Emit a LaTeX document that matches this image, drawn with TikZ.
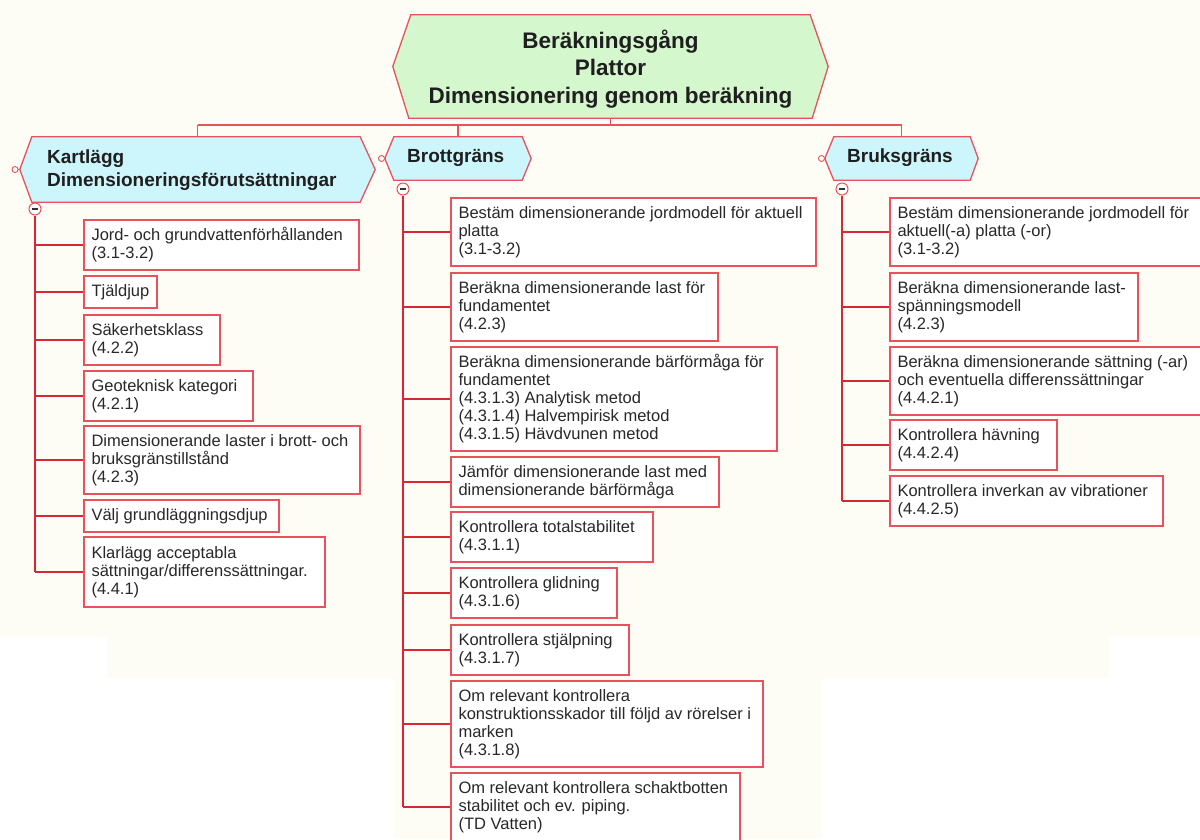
\documentclass[tikz,border=0pt]{standalone}
\usepackage{fontspec}
\setmainfont{Liberation Sans}
\usetikzlibrary{backgrounds}
\definecolor{bord}{RGB}{232,82,92}
\definecolor{connc}{RGB}{214,40,52}
\definecolor{topfill}{RGB}{212,247,206}
\definecolor{hdrfill}{RGB}{204,246,252}
\definecolor{cream}{RGB}{253,252,245}
\definecolor{txt}{RGB}{40,40,40}
\tikzset{
  itembox/.style={draw=bord, line width=1.3pt, fill=white, rectangle, inner sep=0pt},
  itemtext/.style={anchor=west, align=left, inner sep=0pt, font=\fontsize{16.5}{18}\selectfont, text=txt},
  conn/.style={draw=connc, line width=1.8pt},
  busline/.style={draw=bord, line width=1.3pt},
  hex/.style={draw=bord, line width=1.3pt, line join=miter},
  toggle/.style={circle, draw=bord, fill=white, line width=1pt, minimum size=12pt, inner sep=0pt},
  knob/.style={circle, draw=bord, fill=white, line width=0.9pt, minimum size=6pt, inner sep=0pt},
  hdrtext/.style={anchor=west, align=left, inner sep=0pt, font=\bfseries\fontsize{19}{22.5}\selectfont, text=black!88},
  anchorbox/.style={rectangle, inner sep=0pt}
}
\newcommand\itm[6]{%
  \pgfmathsetmacro\itmW{#4-#2}\pgfmathsetmacro\itmH{#5-#3}%
  \node[itembox, minimum width=\itmW pt, minimum height=\itmH pt] (#1) at ({(#2+#4)/2},{(#3+#5)/2}) {};%
  \node[itemtext] (#1t) at ([xshift=8pt]#1.west) {#6};%
}
\begin{document}
\begin{tikzpicture}[x=1pt,y=-1pt]
\path[use as bounding box] (0,0) rectangle (1200,839);
\clip (0,0) rectangle (1200,839);
\begin{scope}[on background layer]
  \fill[white] (0,0) rectangle (1200,839);
  \fill[cream] (0,0) rectangle (1200,637);
  \fill[cream] (107,637) rectangle (1109,678);
  \fill[cream] (394,678) rectangle (822,839);
\end{scope}

% root
\node[anchorbox, minimum width=435pt, minimum height=103pt] (top) at (610.5,66.5) {};
\node[align=center, inner sep=0pt, font=\bfseries\fontsize{22.5}{27.5}\selectfont, text=black!88]
      (topt) at (610.5,69) {Beräkningsgång\\Plattor\\Dimensionering genom beräkning};

% headers
\node[anchorbox, minimum width=355pt, minimum height=65pt] (hL) at (197.5,169.5) {};
\node[hdrtext] (hLt) at (47,170) {Kartlägg\\Dimensioneringsförutsättningar};
\node[anchorbox, minimum width=146pt, minimum height=43pt] (hM) at (458,158.5) {};
\node[hdrtext] (hMt) at (407,158) {Brottgräns};
\node[anchorbox, minimum width=153pt, minimum height=43pt] (hR) at (901.5,158.5) {};
\node[hdrtext] (hRt) at (847,158) {Bruksgräns};

\begin{scope}[on background layer]
  \path[hex, fill=topfill] (top.west) -- ([xshift=18pt]top.north west) -- ([xshift=-18pt]top.north east)
     -- (top.east) -- ([xshift=-16pt]top.south east) -- ([xshift=16pt]top.south west) -- cycle;
  \path[hex, fill=hdrfill] (hL.west) -- ([xshift=12pt]hL.north west) -- ([xshift=-15pt]hL.north east)
     -- (hL.east) -- ([xshift=-15pt]hL.south east) -- ([xshift=12pt]hL.south west) -- cycle;
  \path[hex, fill=hdrfill] (hM.west) -- ([xshift=9pt]hM.north west) -- ([xshift=-9pt]hM.north east)
     -- (hM.east) -- ([xshift=-9pt]hM.south east) -- ([xshift=9pt]hM.south west) -- cycle;
  \path[hex, fill=hdrfill] (hR.west) -- ([xshift=9pt]hR.north west) -- ([xshift=-8pt]hR.north east)
     -- (hR.east) -- ([xshift=-8pt]hR.south east) -- ([xshift=9pt]hR.south west) -- cycle;
\end{scope}

% bus
\coordinate (bus) at (0,125);
\draw[busline] (top.south) -- (top.south |- bus);
\draw[busline] (hL.north |- bus) -- (hR.north |- bus);
\draw[busline] (hL.north |- bus) -- (hL.north);
\draw[busline] (hM.north |- bus) -- (hM.north);
\draw[busline] (hR.north |- bus) -- (hR.north);

% knobs
\node[knob] (kL) at (15,169.5) {};
\node[knob] (kM) at (381.5,158.5) {};
\node[knob] (kR) at (821.5,158.5) {};
\draw[busline, line width=0.9pt] (kL) -- (hL.west);
\draw[busline, line width=0.9pt] (kM) -- (hM.west);
\draw[busline, line width=0.9pt] (kR) -- (hR.west);

% left column
\itm{l1}{84}{220}{359}{270}{Jord- och grundvattenförhållanden\\(3.1-3.2)}
\itm{l2}{84}{276}{157}{308}{Tjäldjup}
\itm{l3}{84}{315}{220}{365}{Säkerhetsklass\\(4.2.2)}
\itm{l4}{84}{371}{253}{421}{Geoteknisk kategori\\(4.2.1)}
\itm{l5}{84}{426}{360}{494}{Dimensionerande laster i brott- och\\bruksgränstillstånd\\(4.2.3)}
\itm{l6}{84}{500}{279}{532}{Välj grundläggningsdjup}
\itm{l7}{84}{537}{325}{607}{Klarlägg acceptabla\\sättningar/differenssättningar.\\(4.4.1)}

% middle column
\itm{m1}{451}{198}{816}{266}{Bestäm dimensionerande jordmodell för aktuell\\platta\\(3.1-3.2)}
\itm{m2}{451}{273}{718}{341}{Beräkna dimensionerande last för\\fundamentet\\(4.2.3)}
\itm{m3}{451}{347}{777}{451}{Beräkna dimensionerande bärförmåga för\\fundamentet\\(4.3.1.3) Analytisk metod\\(4.3.1.4) Halvempirisk metod\\(4.3.1.5) Hävdvunen metod}
\itm{m4}{451}{457}{719}{507}{Jämför dimensionerande last med\\dimensionerande bärförmåga}
\itm{m5}{451}{512}{653}{562}{Kontrollera totalstabilitet\\(4.3.1.1)}
\itm{m6}{451}{568}{617}{618}{Kontrollera glidning\\(4.3.1.6)}
\itm{m7}{451}{625}{629}{675}{Kontrollera stjälpning\\(4.3.1.7)}
\itm{m8}{451}{681}{763}{767}{Om relevant kontrollera\\konstruktionsskador till följd av rörelser i\\marken\\(4.3.1.8)}
\itm{m9}{451}{773}{740}{841}{Om relevant kontrollera schaktbotten\\stabilitet och ev. piping.\\(TD Vatten)}

% right column
\itm{r1}{890}{198}{1204}{266}{Bestäm dimensionerande jordmodell för\\aktuell(-a) platta (-or)\\(3.1-3.2)}
\itm{r2}{890}{273}{1138}{341}{Beräkna dimensionerande last-\\spänningsmodell\\(4.2.3)}
\itm{r3}{890}{347}{1204}{415}{Beräkna dimensionerande sättning (-ar)\\och eventuella differenssättningar\\(4.4.2.1)}
\itm{r4}{890}{420}{1057}{470}{Kontrollera hävning\\(4.4.2.4)}
\itm{r5}{890}{476}{1163}{526}{Kontrollera inverkan av vibrationer\\(4.4.2.5)}

% toggles
\node[toggle] (tL) at (35,209) {\color{black!80}\rule{6pt}{1.4pt}};
\node[toggle] (tM) at (403,189) {\color{black!80}\rule{6pt}{1.4pt}};
\node[toggle] (tR) at (842,189) {\color{black!80}\rule{6pt}{1.4pt}};

% trunks
\draw[conn] (tL.south) -- (tL |- l7.west);
\draw[conn] (tM.south) -- (tM |- m9.west);
\draw[conn] (tR.south) -- (tR |- r5.west);
\foreach \n in {l1,l2,l3,l4,l5,l6,l7} \draw[conn] (tL |- \n.west) -- (\n.west);
\foreach \n in {m1,m2,m3,m4,m5,m6,m7,m8,m9} \draw[conn] (tM |- \n.west) -- (\n.west);
\foreach \n in {r1,r2,r3,r4,r5} \draw[conn] (tR |- \n.west) -- (\n.west);
\end{tikzpicture}
\end{document}
